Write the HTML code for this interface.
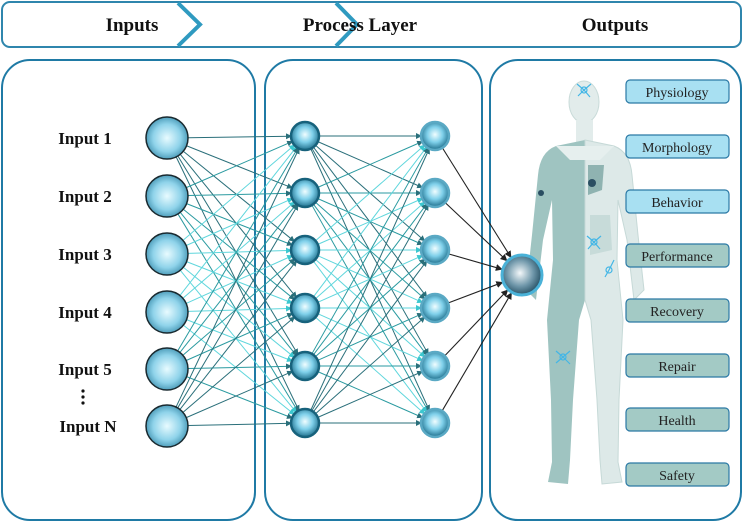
<!DOCTYPE html>
<html><head><meta charset="utf-8"><style>
html,body{margin:0;padding:0;background:#fff;}
svg{display:block;font-family:"Liberation Serif",serif;}
</style></head><body>
<svg id="s" width="744" height="523" viewBox="0 0 744 523" xmlns="http://www.w3.org/2000/svg">
<defs>
<radialGradient id="gi" cx="50%" cy="50%" r="55%"><stop offset="0" stop-color="#e8fbff"/><stop offset="0.6" stop-color="#8fd3ea"/><stop offset="1" stop-color="#3d8fae"/></radialGradient>
<radialGradient id="gh" cx="50%" cy="45%" r="55%"><stop offset="0" stop-color="#f0fdff"/><stop offset="0.5" stop-color="#7fd0ea"/><stop offset="1" stop-color="#1f6f8c"/></radialGradient>
<radialGradient id="go" cx="45%" cy="45%" r="55%"><stop offset="0" stop-color="#f4f8fa"/><stop offset="0.6" stop-color="#6f97aa"/><stop offset="1" stop-color="#2a5468"/></radialGradient>
<marker id="ad" markerWidth="6" markerHeight="6" refX="5" refY="3" orient="auto" markerUnits="userSpaceOnUse"><path d="M0,0 L6,3 L0,6z" fill="#2a6f7a"/></marker>
<marker id="al" markerWidth="6" markerHeight="6" refX="5" refY="3" orient="auto" markerUnits="userSpaceOnUse"><path d="M0,0 L6,3 L0,6z" fill="#3cc7cf"/></marker>
<marker id="ak" markerWidth="7" markerHeight="7" refX="6" refY="3.5" orient="auto" markerUnits="userSpaceOnUse"><path d="M0,0 L7,3.5 L0,7z" fill="#222"/></marker>
</defs>
<rect x="2" y="2" width="739" height="45" rx="8" fill="#fff" stroke="#2f86ad" stroke-width="2"/>
<polyline points="178,3 200,24.5 178,46" fill="none" stroke="#2f9ac0" stroke-width="4"/>
<polyline points="336,3 357,24.5 336,46" fill="none" stroke="#2f9ac0" stroke-width="4"/>
<g font-weight="bold" font-size="19" text-anchor="middle" fill="#111">
<text x="132" y="31">Inputs</text><text x="360" y="31">Process Layer</text><text x="615" y="31">Outputs</text></g>
<rect x="2" y="60" width="253" height="460" rx="28" fill="none" stroke="#1f7aa5" stroke-width="2"/>
<rect x="265" y="60" width="217" height="460" rx="28" fill="none" stroke="#1f7aa5" stroke-width="2"/>
<rect x="490" y="60" width="251" height="460" rx="28" fill="none" stroke="#1f7aa5" stroke-width="2"/>
<!-- body figure -->
<ellipse cx="584" cy="102" rx="15" ry="21" fill="#e2eceb" stroke="#c9dbd9"/>
<rect x="576" y="120" width="17" height="22" fill="#e2eceb"/>
<path d="M585,140 L556,146 Q540,152 538,175 L532,235 L526,290 L536,300 L543,240 L552,200 L553,260 L547,320 L551,400 L552,462 L548,482 L568,484 L570,460 L573,400 L579,320 L585,300 Z" fill="#9fc4c1"/>
<path d="M585,140 L614,146 Q630,152 632,175 L638,235 L644,290 L634,300 L627,240 L618,200 L617,260 L623,320 L619,400 L618,462 L622,482 L602,484 L600,460 L597,400 L591,320 L585,300 Z" fill="#dde9e8" stroke="#c6d9d7"/>
<path d="M556,146 L614,146 L600,160 L570,160 Z" fill="#e6efee"/>
<path d="M588,165 L604,165 L602,190 L588,195 Z" fill="#8fb3b1"/>
<path d="M590,215 L610,215 L612,250 L590,255 Z" fill="#c7dbd9"/>
<g stroke="#43b6e6" stroke-width="1.2" fill="none">
<circle cx="584" cy="90" r="3"/><path d="M584,90 L577,84 M584,90 L591,84 M584,90 L590,97 M584,90 L578,96"/>
<circle cx="594" cy="242" r="3"/><path d="M594,242 L587,236 M594,242 L601,236 M594,242 L600,249 M594,242 L588,249"/>
<circle cx="609" cy="270" r="3"/><path d="M609,270 L614,260 M609,270 L605,277"/>
<circle cx="563" cy="357" r="3"/><path d="M563,357 L556,351 M563,357 L570,351 M563,357 L570,364 M563,357 L556,363"/>
</g>
<g fill="#2a4e62"><circle cx="541" cy="193" r="3"/><circle cx="592" cy="183" r="4"/></g>
<g stroke="#2b79a5" stroke-width="1.2">
<rect x="626" y="80" width="103" height="23" rx="4" fill="#a8e0f2"/>
<rect x="626" y="135" width="103" height="23" rx="4" fill="#a8e0f2"/>
<rect x="626" y="190" width="103" height="23" rx="4" fill="#a8e0f2"/>
<rect x="626" y="244" width="103" height="23" rx="4" fill="#a3cac5"/>
<rect x="626" y="299" width="103" height="23" rx="4" fill="#a3cac5"/>
<rect x="626" y="354" width="103" height="23" rx="4" fill="#a3cac5"/>
<rect x="626" y="408" width="103" height="23" rx="4" fill="#a3cac5"/>
<rect x="626" y="463" width="103" height="23" rx="4" fill="#a3cac5"/>
</g>
<g font-size="14" text-anchor="middle" fill="#222">
<text x="677" y="97">Physiology</text><text x="677" y="152">Morphology</text><text x="677" y="207">Behavior</text><text x="677" y="261">Performance</text>
<text x="677" y="316">Recovery</text><text x="677" y="371">Repair</text><text x="677" y="425">Health</text><text x="677" y="480">Safety</text></g>
<g id="edges"></g>
<g id="nodes"></g>
<g font-weight="bold" font-size="17" text-anchor="middle" fill="#111">
<text x="85" y="144">Input 1</text><text x="85" y="202">Input 2</text><text x="85" y="260">Input 3</text>
<text x="85" y="318">Input 4</text><text x="85" y="375">Input 5</text><text x="88" y="432">Input N</text></g>
<g fill="#111"><circle cx="83" cy="391" r="1.6"/><circle cx="83" cy="397" r="1.6"/><circle cx="83" cy="403" r="1.6"/></g>
</svg>
<script>
var NS="http://www.w3.org/2000/svg";
var E=document.getElementById("edges"),N=document.getElementById("nodes");
var iy=[138,196,254,312,369,426],hy=[136,193,250,308,366,423];
function ln(x1,y1,x2,y2,col,m,w){var l=document.createElementNS(NS,"line");l.setAttribute("x1",x1);l.setAttribute("y1",y1);l.setAttribute("x2",x2);l.setAttribute("y2",y2);l.setAttribute("stroke",col);l.setAttribute("stroke-width",w||1);l.setAttribute("marker-end","url(#"+m+")");E.appendChild(l);}
function cols(i){return (i==2||i==3)?["#5fd6dc","al"]:(i==1||i==4?["#2a9aa0","ad"]:["#2a6f7a","ad"]);}
var i,j,cc,a;
for(i=0;i<6;i++)for(j=0;j<6;j++){cc=cols(i);a=Math.atan2(hy[j]-iy[i],305-167);ln(167+21*Math.cos(a),iy[i]+21*Math.sin(a),305-14*Math.cos(a),hy[j]-14*Math.sin(a),cc[0],cc[1]);}
for(i=0;i<6;i++)for(j=0;j<6;j++){cc=cols(i);a=Math.atan2(hy[j]-hy[i],435-305);ln(305+14*Math.cos(a),hy[i]+14*Math.sin(a),435-14*Math.cos(a),hy[j]-14*Math.sin(a),cc[0],cc[1]);}
for(j=0;j<6;j++){a=Math.atan2(275-hy[j],522-435);ln(435+14*Math.cos(a),hy[j]+14*Math.sin(a),522-21*Math.cos(a),275-21*Math.sin(a),"#222","ak",1.1);}
function circ(x,y,r,f,s,w){var e=document.createElementNS(NS,"circle");e.setAttribute("cx",x);e.setAttribute("cy",y);e.setAttribute("r",r);e.setAttribute("fill",f);e.setAttribute("stroke",s);e.setAttribute("stroke-width",w);N.appendChild(e);}
for(i=0;i<6;i++){circ(167,iy[i],21,"url(#gi)","#1a2a30",1.5);circ(305,hy[i],14,"url(#gh)","#17627c",2.5);circ(435,hy[i],14,"url(#gh)","#5aa9c4",2.5);}
circ(522,275,20,"url(#go)","#4ab2d8",3);
</script>
</body></html>
